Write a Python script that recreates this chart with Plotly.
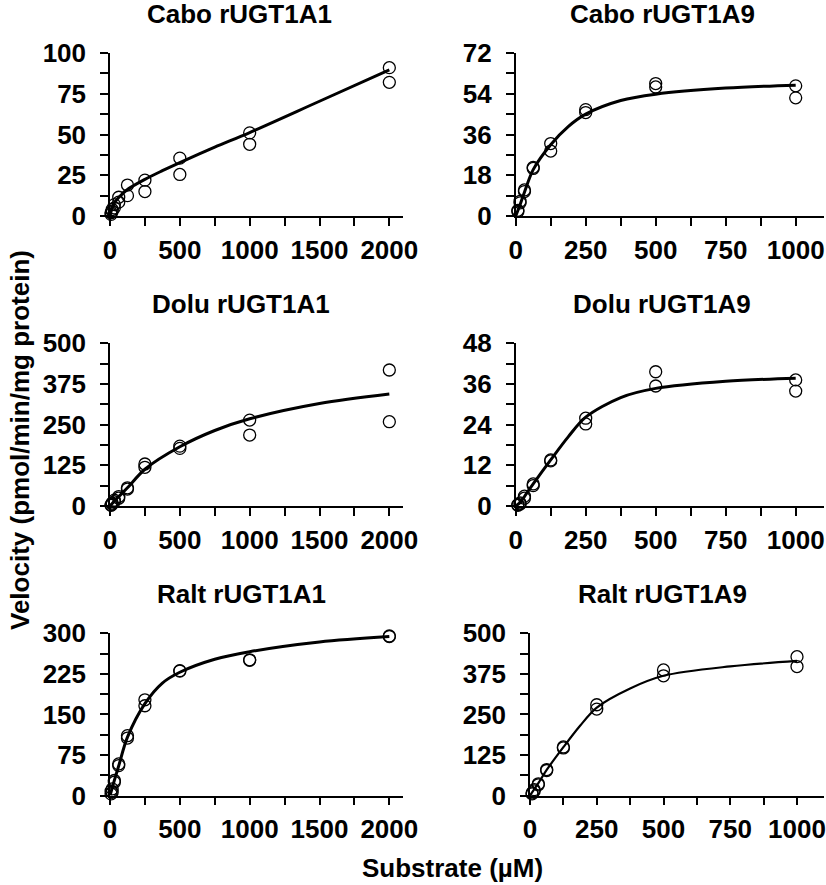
import plotly.graph_objects as go

# ---------------- data ----------------
conc_a1 = [7.8, 15.6, 31.25, 62.5, 125, 250, 500, 1000, 2000]
conc_a9 = [7.8, 15.6, 31.25, 62.5, 125, 250, 500, 1000]

cabo_a1_rep1 = [2.0, 4.0, 7.0, 11.5, 19.0, 22.0, 35.5, 51.0, 91.0]
cabo_a1_rep2 = [1.0, 3.0, 5.0, 8.5, 12.5, 15.0, 25.5, 44.0, 82.0]
cabo_a1_fit_x = [0, 15.6, 31.25, 62.5, 125, 250, 375, 500, 750, 1000, 1500, 2000]
cabo_a1_fit_y = [0, 5.0, 8.0, 11.4, 16.3, 22.5, 27.8, 32.8, 42.2, 51.2, 70.4, 89.6]

cabo_a9_rep1 = [2.5, 6.5, 11.5, 21.5, 32.0, 47.0, 58.5, 57.5]
cabo_a9_rep2 = [2.0, 5.8, 10.8, 21.0, 28.7, 45.7, 57.0, 52.2]
cabo_a9_fit_x = [0, 15.6, 31.25, 62.5, 125, 187.5, 250, 375, 500, 750, 1000]
cabo_a9_fit_y = [0, 5.0, 10.5, 20.5, 31.5, 39.5, 45.0, 51.0, 53.8, 56.5, 57.8]

dolu_a1_rep1 = [4, 9, 18, 29, 56, 129, 184, 264, 418]
dolu_a1_rep2 = [2, 6, 13, 24, 52, 119, 177, 218, 259]
dolu_a1_fit_x = [0, 31.25, 62.5, 125, 250, 500, 750, 1000, 1500, 2000]
dolu_a1_fit_y = [0, 15, 29, 56, 113, 182, 232, 268, 315, 344]

dolu_a9_rep1 = [0.4, 0.9, 2.9, 6.5, 13.6, 25.9, 39.6, 37.2]
dolu_a9_rep2 = [0.2, 0.6, 2.3, 6.0, 13.3, 24.2, 35.4, 33.9]
dolu_a9_fit_x = [0, 15.6, 31.25, 62.5, 125, 187.5, 250, 375, 500, 750, 1000]
dolu_a9_fit_y = [0, 1.0, 2.8, 6.5, 13.6, 20.4, 26.2, 32.0, 34.7, 36.8, 37.7]

ralt_a1_rep1 = [8, 12.3, 27.7, 58.4, 110.6, 177, 231, 251, 295]
ralt_a1_rep2 = [3, 6, 24.6, 55.3, 106.3, 166, 230, 250, 294]
ralt_a1_fit_x = [0, 31.25, 62.5, 125, 250, 375, 500, 750, 1000, 1500, 2000]
ralt_a1_fit_y = [0, 28, 55, 108, 170, 208, 228, 252, 266, 284, 294]

ralt_a9_rep1 = [8, 18, 36, 80, 149.6, 279.7, 387, 428]
ralt_a9_rep2 = [5, 14, 33, 77, 146.6, 266.4, 369, 397.5]
ralt_a9_fit_x = [0, 31.25, 62.5, 125, 187.5, 250, 375, 500, 750, 1000]
ralt_a9_fit_y = [0, 38, 79, 149, 215, 271, 330, 369, 398, 415]

titles = ["Cabo rUGT1A1", "Cabo rUGT1A9", "Dolu rUGT1A1",
          "Dolu rUGT1A9", "Ralt rUGT1A1", "Ralt rUGT1A9"]
y_ranges = [100, 72, 500, 48, 300, 500]
y_dticks = [25, 18, 125, 12, 75, 125]

# ---------------- layout geometry ----------------
W, H = 826, 885
FONT = "Liberation Sans, Arial, sans-serif"

def px_x(p):
    return p / W

def px_y(p):
    return (H - p) / H

# (left, right, top, bottom) in pixels for each plot area
boxes = [
    (110, 403.3, 53, 216),
    (515.7, 823.7, 53, 216),
    (110, 403.3, 343.3, 506),
    (515.7, 823.7, 343.3, 506),
    (110, 403.3, 633.3, 795.5),
    (530, 823.7, 633.3, 795.5),
]
title_pos = [(240, 14), (662, 14), (241, 304), (662, 304), (241, 594), (662, 594)]

panels = [
    (conc_a1, cabo_a1_rep1, cabo_a1_rep2, cabo_a1_fit_x, cabo_a1_fit_y),
    (conc_a9, cabo_a9_rep1, cabo_a9_rep2, cabo_a9_fit_x, cabo_a9_fit_y),
    (conc_a1, dolu_a1_rep1, dolu_a1_rep2, dolu_a1_fit_x, dolu_a1_fit_y),
    (conc_a9, dolu_a9_rep1, dolu_a9_rep2, dolu_a9_fit_x, dolu_a9_fit_y),
    (conc_a1, ralt_a1_rep1, ralt_a1_rep2, ralt_a1_fit_x, ralt_a1_fit_y),
    (conc_a9, ralt_a9_rep1, ralt_a9_rep2, ralt_a9_fit_x, ralt_a9_fit_y),
]
line_widths = [3, 3, 3, 3, 3, 2.2]

fig = go.Figure()
layout = {}
annotations = []
tickfont = dict(family=FONT, size=26, color="black", weight="bold")

for i, (conc, r1, r2, fx, fy) in enumerate(panels):
    n = i + 1
    xa = "x" if n == 1 else f"x{n}"
    ya = "y" if n == 1 else f"y{n}"
    is_a1 = (i % 2 == 0)
    left, right, top, bottom = boxes[i]

    fig.add_trace(go.Scatter(
        x=fx, y=fy, mode="lines", xaxis=xa, yaxis=ya,
        line=dict(color="black", width=line_widths[i], shape="spline", smoothing=0.9),
        showlegend=False, hoverinfo="skip", cliponaxis=False))
    for rep in (r1, r2):
        fig.add_trace(go.Scatter(
            x=conc, y=rep, mode="markers", xaxis=xa, yaxis=ya,
            marker=dict(symbol="circle-open", size=12, color="black",
                        line=dict(width=1.3, color="black")),
            showlegend=False, cliponaxis=False))

    axis_common = dict(showgrid=False, zeroline=False, showline=True,
                       linecolor="black", linewidth=1.5, ticks="outside",
                       ticklen=8, tickwidth=1.5, tickcolor="black",
                       tickfont=tickfont, automargin=False)
    layout["xaxis" if n == 1 else f"xaxis{n}"] = dict(
        axis_common,
        domain=[px_x(left), min(1.0, px_x(right))],
        anchor=ya,
        range=[0, 2100 if is_a1 else 1100],
        tick0=0, dtick=500 if is_a1 else 250,
        ticklabelstandoff=2,
        minor=dict(ticks="outside", ticklen=8, tickwidth=1.5, tickcolor="black",
                   dtick=250 if is_a1 else 125, tick0=0),
    )
    layout["yaxis" if n == 1 else f"yaxis{n}"] = dict(
        axis_common,
        domain=[px_y(bottom), px_y(top)],
        anchor=xa,
        range=[0, y_ranges[i]],
        tick0=0, dtick=y_dticks[i],
        ticklabelstandoff=9,
        minor=dict(ticks="outside", ticklen=8, tickwidth=1.5, tickcolor="black",
                   dtick=y_dticks[i] / 2, tick0=0),
    )
    tx, ty = title_pos[i]
    annotations.append(dict(
        text=titles[i], x=px_x(tx), y=px_y(ty), xref="paper", yref="paper",
        xanchor="center", yanchor="middle", showarrow=False,
        font=dict(family=FONT, size=26, color="black", weight="bold")))

annotations.append(dict(
    text="Velocity (pmol/min/mg protein)", x=px_x(20), y=px_y(440),
    xref="paper", yref="paper", xanchor="center", yanchor="middle",
    textangle=-90, showarrow=False,
    font=dict(family=FONT, size=26, color="black", weight="bold")))
annotations.append(dict(
    text="Substrate (µM)", x=px_x(452), y=px_y(868),
    xref="paper", yref="paper", xanchor="center", yanchor="middle",
    showarrow=False,
    font=dict(family=FONT, size=26, color="black", weight="bold")))

fig.update_layout(
    width=W, height=H,
    margin=dict(l=0, r=0, t=0, b=0, autoexpand=False),
    paper_bgcolor="white", plot_bgcolor="white",
    annotations=annotations,
    **layout,
)

# remove the default page margin so the figure fills the 826x885 window exactly
fig.write_html("out.html",
               config={"displayModeBar": False},
               post_script="document.body.style.margin='0';"
                           "document.body.style.overflow='hidden';")
